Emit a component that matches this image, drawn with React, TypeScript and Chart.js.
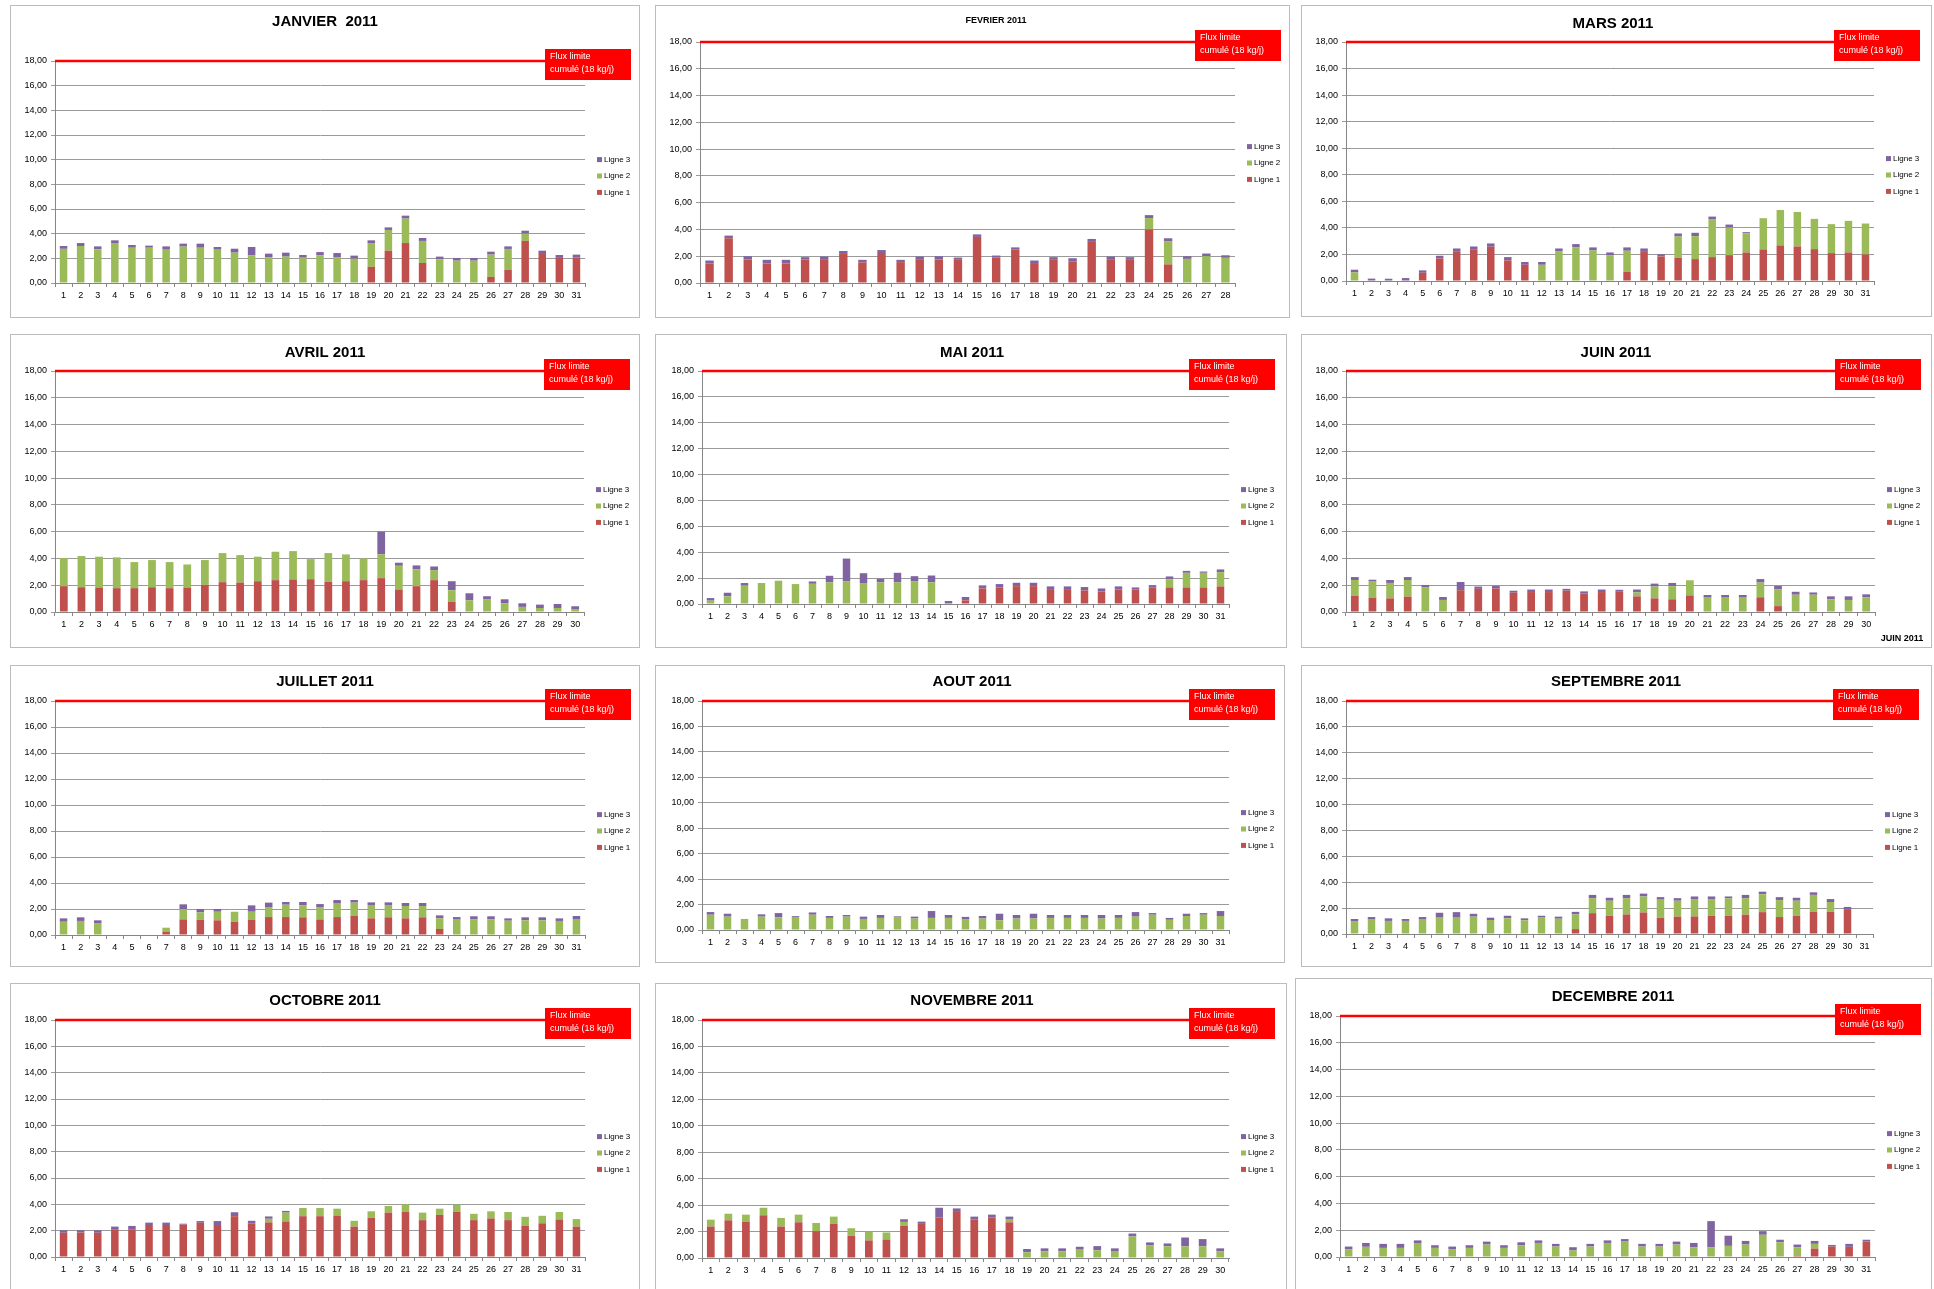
import React, { useEffect, useRef } from "react";
import { Chart, registerables } from "chart.js";

Chart.register(...registerables);

// ---------- DATA ----------
const DAYS = ["1","2","3","4","5","6","7","8","9","10","11","12","13","14","15","16","17","18","19","20","21","22","23","24","25","26","27","28","29","30","31"];
const SERIES_NAMES = ["Ligne 1", "Ligne 2", "Ligne 3"];
const Y_TICKS = [0, 2, 4, 6, 8, 10, 12, 14, 16, 18];
const FLUX_LIMITE = 18;
const FLUX_LABEL = ["Flux limite", "cumulé (18 kg/j)"];

const janL1 = [0,0,0,0,0,0,0,0,0,0,0,0,0,0,0,0,0,0,1.32,2.62,3.24,1.62,0,0,0,0.49,1.08,3.41,2.43,2.10,2.08];
const janL2 = [2.77,3.00,2.73,3.24,2.86,2.86,2.70,2.95,2.86,2.70,2.46,2.24,2.10,2.14,2.05,2.24,2.10,1.97,1.92,1.68,1.98,1.79,1.92,1.81,1.81,1.81,1.68,0.59,0,0,0];
const janL3 = [0.23,0.24,0.24,0.22,0.22,0.17,0.27,0.24,0.33,0.22,0.32,0.68,0.28,0.32,0.22,0.27,0.33,0.25,0.22,0.21,0.24,0.24,0.22,0.22,0.22,0.24,0.21,0.24,0.19,0.17,0.22];

const febL1 = [1.46,3.34,1.76,1.46,1.46,1.76,1.78,2.17,1.54,2.24,1.56,1.78,1.76,1.73,3.44,1.90,2.49,1.49,1.73,1.59,3.07,1.78,1.73,4.00,1.39,0,0,0];
const febL2 = [0,0,0,0,0,0,0,0,0,0,0,0,0,0,0,0,0,0,0,0,0,0,0,0.85,1.71,1.80,2.00,1.88];
const febL3 = [0.22,0.20,0.24,0.27,0.27,0.17,0.20,0.22,0.19,0.22,0.17,0.20,0.24,0.17,0.19,0.15,0.17,0.19,0.20,0.26,0.22,0.20,0.20,0.22,0.24,0.20,0.20,0.19];

const marL1 = [0,0,0,0,0.62,1.70,2.20,2.35,2.58,1.55,1.22,0,0,0,0,0,0.70,2.25,1.85,1.75,1.65,1.80,1.95,2.15,2.38,2.68,2.60,2.40,2.10,2.15,2.00];
const marL2 = [0.65,0,0,0,0,0,0,0,0,0,0,1.22,2.25,2.55,2.30,1.95,1.58,0,0,1.60,1.73,2.83,2.08,1.45,2.35,2.67,2.60,2.28,2.18,2.38,2.33];
const marL3 = [0.20,0.18,0.17,0.22,0.18,0.20,0.25,0.25,0.25,0.25,0.21,0.21,0.20,0.23,0.23,0.20,0.25,0.20,0.17,0.23,0.25,0.22,0.22,0.08,0,0,0,0,0,0,0];

const aprL1 = [1.93,1.85,1.83,1.78,1.78,1.85,1.78,1.83,2.03,2.23,2.20,2.30,2.38,2.43,2.45,2.25,2.30,2.38,2.53,1.68,1.93,2.38,0.75,0,0,0,0,0,0,0];
const aprL2 = [2.10,2.33,2.30,2.30,1.95,2.03,1.95,1.72,1.85,2.17,2.05,1.83,2.12,2.12,1.50,2.15,2.00,1.62,1.77,1.77,1.25,0.75,0.88,0.88,0.93,0.65,0.38,0.30,0.30,0.18];
const aprL3 = [0,0,0,0,0,0,0,0,0,0,0,0,0,0,0,0,0,0,1.70,0.23,0.30,0.27,0.67,0.52,0.25,0.30,0.27,0.25,0.30,0.25];

const mayL1 = [0,0,0,0,0,0,0,0,0,0,0,0,0,0,0,0.28,1.20,1.28,1.38,1.38,1.15,1.15,1.05,0.97,1.13,1.13,1.26,1.28,1.28,1.28,1.36];
const mayL2 = [0.26,0.59,1.41,1.62,1.80,1.54,1.56,1.67,1.74,1.62,1.67,1.67,1.74,1.67,0,0,0,0,0,0,0,0,0,0,0,0,0,0.62,1.13,1.13,1.10];
const mayL3 = [0.20,0.28,0.21,0,0,0,0.18,0.51,1.77,0.76,0.28,0.74,0.41,0.53,0.23,0.26,0.24,0.26,0.26,0.26,0.21,0.21,0.26,0.23,0.23,0.15,0.20,0.23,0.15,0.10,0.21];

const junL1 = [1.22,1.07,1.02,1.15,0,0,1.63,1.73,1.76,1.44,1.49,1.49,1.59,1.37,1.49,1.51,1.17,1.02,0.95,1.24,0,0,0,1.10,0.44,0,0,0,0,0];
const junL2 = [1.17,1.20,1.15,1.24,1.83,0.90,0,0,0,0,0,0,0,0,0,0,0.29,0.88,0.98,1.13,1.07,1.07,1.07,1.10,1.24,1.29,1.29,0.95,0.90,1.10];
const junL3 = [0.22,0.14,0.22,0.22,0.19,0.22,0.61,0.17,0.19,0.15,0.19,0.19,0.14,0.17,0.19,0.15,0.22,0.22,0.24,0,0.20,0.20,0.20,0.26,0.27,0.22,0.17,0.22,0.27,0.22];

const julL1 = [0,0,0,0,0,0,0.23,1.20,1.18,1.13,1.02,1.18,1.38,1.38,1.36,1.20,1.38,1.49,1.28,1.36,1.28,1.36,0.46,0,0,0,0,0,0,0,0];
const julL2 = [1.02,1.08,0.92,0,0,0,0.33,0.80,0.56,0.66,0.77,0.61,0.77,0.95,0.92,0.95,1.08,1.00,1.03,0.95,0.95,0.87,0.82,1.18,1.20,1.20,1.10,1.13,1.13,1.08,1.18];
const julL3 = [0.26,0.28,0.21,0,0,0,0,0.36,0.26,0.21,0,0.49,0.34,0.21,0.26,0.23,0.23,0.20,0.20,0.20,0.23,0.23,0.23,0.20,0.24,0.24,0.18,0.23,0.23,0.20,0.28];

const augL1 = [0,0,0,0,0,0,0,0,0,0,0,0,0,0,0,0,0,0,0,0,0,0,0,0,0,0,0,0,0,0,0];
const augL2 = [1.20,1.05,0.87,1.05,1.00,1.03,1.20,0.95,1.05,0.87,0.95,1.03,0.90,0.95,0.95,0.82,0.90,0.77,0.90,0.90,0.95,0.95,0.95,0.90,0.95,1.05,1.20,0.80,1.10,1.20,1.10];
const augL3 = [0.21,0.23,0,0.18,0.33,0.07,0.18,0.15,0.13,0.18,0.23,0.05,0.15,0.54,0.23,0.21,0.20,0.51,0.28,0.38,0.23,0.23,0.23,0.28,0.23,0.36,0.13,0.15,0.18,0.13,0.39];

const sepL1 = [0,0,0,0,0,0,0,0,0,0,0,0,0,0.38,1.61,1.41,1.51,1.66,1.26,1.34,1.36,1.41,1.41,1.49,1.69,1.31,1.41,1.71,1.71,1.86,0];
const sepL2 = [0.96,1.11,1.01,1.01,1.16,1.26,1.26,1.34,1.08,1.21,1.06,1.31,1.18,1.13,1.16,1.16,1.26,1.24,1.39,1.23,1.34,1.29,1.34,1.28,1.38,1.31,1.16,1.31,0.76,0,0];
const sepL3 = [0.20,0.20,0.20,0.15,0.15,0.38,0.43,0.22,0.18,0.20,0.15,0.10,0.16,0.20,0.25,0.23,0.25,0.22,0.20,0.20,0.20,0.20,0.15,0.25,0.20,0.23,0.23,0.20,0.23,0.23,0];

const octL1 = [1.84,1.86,1.84,2.11,2.11,2.43,2.43,2.46,2.60,2.43,3.10,2.56,2.63,2.70,3.10,3.10,3.15,2.31,2.98,3.37,3.42,2.80,3.20,3.42,2.80,2.93,2.80,2.38,2.56,2.85,2.31];
const octL2 = [0,0,0,0,0,0,0,0,0,0,0,0,0.27,0.67,0.62,0.62,0.52,0.44,0.49,0.50,0.58,0.57,0.47,0.55,0.48,0.54,0.62,0.67,0.57,0.57,0.57];
const octL3 = [0.19,0.17,0.19,0.20,0.25,0.18,0.18,0.07,0.13,0.30,0.30,0.19,0.18,0.13,0,0,0,0,0,0,0,0,0,0,0,0,0,0,0,0,0];

const novL1 = [2.38,2.85,2.75,3.23,2.38,2.70,2.03,2.60,1.68,1.33,1.40,2.45,2.58,3.05,3.55,2.90,3.05,2.70,0,0,0,0,0,0,0,0,0,0,0,0];
const novL2 = [0.52,0.50,0.53,0.57,0.65,0.58,0.62,0.53,0.57,0.65,0.53,0.28,0,0,0,0,0,0.20,0.43,0.50,0.50,0.63,0.58,0.48,1.63,0.95,0.88,0.88,0.88,0.50];
const novL3 = [0,0,0,0,0,0,0,0,0,0,0,0.20,0.17,0.75,0.20,0.23,0.23,0.23,0.25,0.23,0.23,0.22,0.32,0.25,0.22,0.23,0.22,0.67,0.55,0.23];

const decL1 = [0,0,0,0,0,0,0,0,0,0,0,0,0,0,0,0,0,0,0,0,0,0,0,0,0,0,0.10,0.63,0.78,0.76,1.15];
const decL2 = [0.59,0.76,0.68,0.68,1.00,0.68,0.59,0.68,0.93,0.68,0.88,1.05,0.78,0.51,0.78,1.05,1.15,0.78,0.78,0.93,0.73,0.73,0.83,0.93,1.66,1.10,0.63,0.35,0,0,0];
const decL3 = [0.19,0.29,0.30,0.30,0.24,0.20,0.19,0.20,0.22,0.20,0.22,0.19,0.20,0.22,0.20,0.19,0.19,0.20,0.20,0.22,0.32,1.95,0.76,0.27,0.27,0.19,0.20,0.22,0.12,0.22,0.14];

// ---------- STYLE ----------
const FONT = "'Liberation Sans', Arial, sans-serif";
const RED = "#C0504D";
const GREEN = "#9BBB59";
const PURPLE = "#8064A2";
const LIMIT = "#FF0000";
const GRID = "#9a9a9a";
const AXIS = "#868686";

type Panel = {
  title: string; titleSize: number; titleX: number; titleY: number;
  x: number; y: number; w: number; h: number;
  pl: number; pt: number; pr: number; pb: number; legendY: number;
  days: number; l1: number[]; l2: number[]; l3: number[]; extra?: string;
};

const PANELS: Panel[] = [
  { title: "JANVIER  2011", titleSize: 15, titleX: 314, titleY: 16, x: 10, y: 5, w: 630, h: 313, pl: 44, pt: 55, pr: 576, pb: 279, legendY: 170, days: 31, l1: janL1, l2: janL2, l3: janL3 },
  { title: "FEVRIER 2011", titleSize: 9, titleX: 340, titleY: 15, x: 655, y: 5, w: 635, h: 313, pl: 44, pt: 36, pr: 581, pb: 279, legendY: 157, days: 28, l1: febL1, l2: febL2, l3: febL3 },
  { title: "MARS 2011", titleSize: 15, titleX: 311, titleY: 18, x: 1301, y: 5, w: 631, h: 312, pl: 44, pt: 36, pr: 574, pb: 277, legendY: 169, days: 31, l1: marL1, l2: marL2, l3: marL3 },
  { title: "AVRIL 2011", titleSize: 15, titleX: 314, titleY: 18, x: 10, y: 334, w: 630, h: 314, pl: 44, pt: 36, pr: 575, pb: 279, legendY: 171, days: 30, l1: aprL1, l2: aprL2, l3: aprL3 },
  { title: "MAI 2011", titleSize: 15, titleX: 316, titleY: 18, x: 655, y: 334, w: 632, h: 314, pl: 46, pt: 36, pr: 575, pb: 271, legendY: 171, days: 31, l1: mayL1, l2: mayL2, l3: mayL3 },
  { title: "JUIN 2011", titleSize: 15, titleX: 314, titleY: 18, x: 1301, y: 334, w: 631, h: 314, pl: 44, pt: 36, pr: 575, pb: 279, legendY: 171, days: 30, l1: junL1, l2: junL2, l3: junL3, extra: "JUIN 2011" },
  { title: "JUILLET 2011", titleSize: 15, titleX: 314, titleY: 16, x: 10, y: 665, w: 630, h: 302, pl: 44, pt: 35, pr: 576, pb: 271, legendY: 165, days: 31, l1: julL1, l2: julL2, l3: julL3 },
  { title: "AOUT 2011", titleSize: 15, titleX: 316, titleY: 16, x: 655, y: 665, w: 630, h: 298, pl: 46, pt: 35, pr: 575, pb: 266, legendY: 163, days: 31, l1: augL1, l2: augL2, l3: augL3 },
  { title: "SEPTEMBRE 2011", titleSize: 15, titleX: 314, titleY: 16, x: 1301, y: 665, w: 631, h: 302, pl: 44, pt: 35, pr: 573, pb: 270, legendY: 165, days: 31, l1: sepL1, l2: sepL2, l3: sepL3 },
  { title: "OCTOBRE 2011", titleSize: 15, titleX: 314, titleY: 17, x: 10, y: 983, w: 630, h: 310, pl: 44, pt: 36, pr: 576, pb: 275, legendY: 169, days: 31, l1: octL1, l2: octL2, l3: octL3 },
  { title: "NOVEMBRE 2011", titleSize: 15, titleX: 316, titleY: 17, x: 655, y: 983, w: 632, h: 310, pl: 46, pt: 36, pr: 575, pb: 276, legendY: 169, days: 30, l1: novL1, l2: novL2, l3: novL3 },
  { title: "DECEMBRE 2011", titleSize: 15, titleX: 317, titleY: 18, x: 1295, y: 978, w: 637, h: 315, pl: 44, pt: 37, pr: 581, pb: 280, legendY: 171, days: 31, l1: decL1, l2: decL2, l3: decL3 },
];

function makeDecor(p: Panel) {
  return {
    id: "decor",
    afterDraw(chart: any) {
      const ctx = chart.ctx;
      const area = chart.chartArea;
      const yS = chart.scales.y;
      const yLim = yS.getPixelForValue(FLUX_LIMITE);
      const boxL = area.right - 40;
      ctx.save();
      // title
      ctx.fillStyle = "#000";
      ctx.font = `bold ${p.titleSize}px ${FONT}`;
      ctx.textAlign = "center";
      ctx.textBaseline = "middle";
      ctx.fillText(p.title, p.titleX, p.titleY);
      // limit line
      ctx.strokeStyle = LIMIT;
      ctx.lineWidth = 2.5;
      ctx.beginPath();
      ctx.moveTo(area.left, yLim);
      ctx.lineTo(boxL + 2, yLim);
      ctx.stroke();
      // label box
      ctx.fillStyle = LIMIT;
      ctx.fillRect(boxL, yLim - 12, 86, 31);
      ctx.fillStyle = "#fff";
      ctx.font = `9px ${FONT}`;
      ctx.textAlign = "left";
      ctx.fillText(FLUX_LABEL[0], boxL + 5, yLim - 4);
      ctx.fillText(FLUX_LABEL[1], boxL + 5, yLim + 9);
      // legend (reverse order)
      const colors = [RED, GREEN, PURPLE];
      const lx = area.right + 12;
      ctx.font = `8px ${FONT}`;
      for (let i = 0; i < 3; i++) {
        const idx = 2 - i;
        const cy = p.legendY + (i - 1) * 16.4;
        ctx.fillStyle = colors[idx];
        ctx.fillRect(lx, cy - 2.5, 5, 5);
        ctx.fillStyle = "#000";
        ctx.fillText(SERIES_NAMES[idx], lx + 7, cy);
      }
      if (p.extra) {
        ctx.font = `bold 9px ${FONT}`;
        ctx.textAlign = "center";
        ctx.fillText(p.extra, 600, p.h - 10);
      }
      ctx.restore();
    },
  };
}

function PanelChart({ p }: { p: Panel }) {
  const ref = useRef<HTMLCanvasElement | null>(null);
  useEffect(() => {
    if (!ref.current) return;
    const labels = DAYS.slice(0, p.days);
    const chart = new Chart(ref.current, {
      type: "bar",
      data: {
        labels,
        datasets: [
          { label: SERIES_NAMES[0], data: p.l1, backgroundColor: RED, barPercentage: 0.44, categoryPercentage: 1 },
          { label: SERIES_NAMES[1], data: p.l2, backgroundColor: GREEN, barPercentage: 0.44, categoryPercentage: 1 },
          { label: SERIES_NAMES[2], data: p.l3, backgroundColor: PURPLE, barPercentage: 0.44, categoryPercentage: 1 },
        ],
      },
      options: {
        responsive: false,
        animation: false,
        devicePixelRatio: 1,
        layout: { padding: { top: p.pt, left: 0, right: p.w - p.pr, bottom: 0 } },
        plugins: { legend: { display: false }, title: { display: false }, tooltip: { enabled: false } },
        scales: {
          x: {
            stacked: true,
            grid: { display: true, drawOnChartArea: false, color: AXIS, tickLength: 4, offset: true },
            border: { color: AXIS, width: 1 },
            ticks: { font: { size: 9, family: FONT }, color: "#000", padding: 3, maxRotation: 0, autoSkip: false },
            afterFit: (s: any) => { s.height = p.h - p.pb; },
          },
          y: {
            stacked: true,
            min: 0,
            max: 18,
            afterBuildTicks: (s: any) => { s.ticks = Y_TICKS.map((v) => ({ value: v })); },
            ticks: {
              font: { size: 9, family: FONT },
              color: "#000",
              padding: 4,
              callback: (v: any) => Number(v).toFixed(2).replace(".", ","),
            },
            grid: { color: GRID, tickLength: 4, lineWidth: 1 },
            border: { color: AXIS, width: 1 },
            afterFit: (s: any) => { s.width = p.pl; },
          },
        },
      },
      plugins: [makeDecor(p)],
    } as any);
    return () => chart.destroy();
  }, [p]);
  return (
    <div
      style={{
        position: "absolute",
        left: p.x,
        top: p.y,
        width: p.w,
        height: p.h,
        border: "1px solid #bcbcbc",
        boxSizing: "border-box",
        background: "#fff",
        overflow: "hidden",
      }}
    >
      <canvas ref={ref} width={p.w - 2} height={p.h - 2} style={{ display: "block", width: p.w - 2, height: p.h - 2 }} />
    </div>
  );
}

export default function App() {
  return (
    <div
      style={{
        position: "absolute",
        left: 0,
        top: 0,
        width: 1934,
        height: 1289,
        overflow: "hidden",
        background: "#fff",
      }}
    >
      {PANELS.map((p) => (
        <PanelChart key={p.title} p={p} />
      ))}
    </div>
  );
}
